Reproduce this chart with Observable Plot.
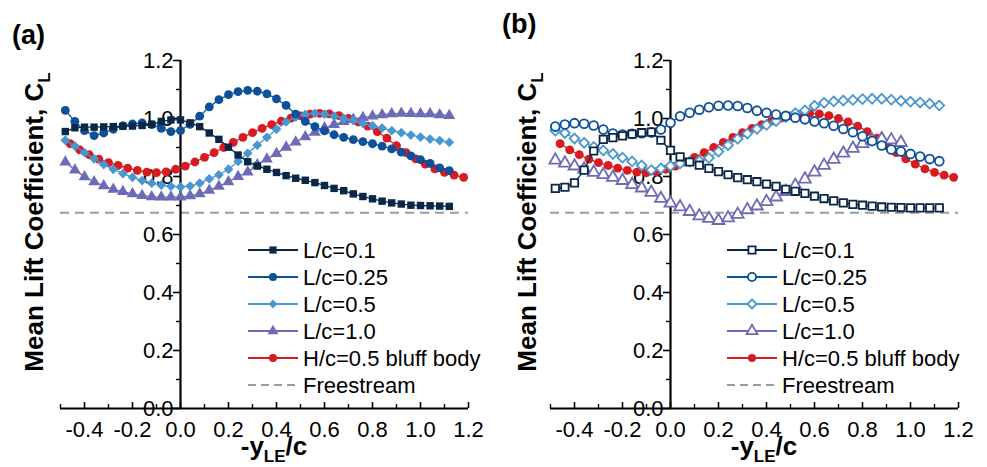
<!DOCTYPE html>
<html><head><meta charset="utf-8">
<script src="https://cdn.jsdelivr.net/npm/d3@7"></script>
<script src="https://cdn.jsdelivr.net/npm/@observablehq/plot@0.6"></script>
<style>
body{margin:0;background:#fff;font-family:"Liberation Sans",Arial,sans-serif;}
#wrap{display:flex;width:987px;height:467px;overflow:hidden;}
</style></head><body><div id="wrap"></div>
<script>
// ---- data ----
const xsL = [-0.48,-0.44,-0.40,-0.36,-0.32,-0.28,-0.24,-0.20,-0.16,-0.12,-0.08,-0.04,0.00,0.04,0.08,0.12,0.16,0.20,0.24,0.28,0.32,0.36,0.40,0.44,0.48,0.52,0.56,0.60,0.64,0.68,0.72,0.76,0.80,0.84,0.88,0.92,0.96,1.00,1.04,1.08,1.12];
const xsB10 = [-0.48,-0.44,-0.40,-0.36,-0.32,-0.28,-0.24,-0.20,-0.16,-0.12,-0.08,-0.04,0.00,0.04,0.08,0.12,0.16,0.20,0.24,0.28,0.32,0.36,0.40,0.44,0.48,0.52,0.56,0.60,0.64,0.68,0.72,0.76,0.80,0.84,0.88,0.92,0.96];
const bluffX = [-0.46,-0.42,-0.38,-0.34,-0.30,-0.26,-0.22,-0.18,-0.14,-0.10,-0.06,-0.02,0.02,0.06,0.10,0.14,0.18,0.22,0.26,0.30,0.34,0.38,0.42,0.46,0.50,0.54,0.58,0.62,0.66,0.70,0.74,0.78,0.82,0.86,0.90,0.94,0.98,1.02,1.06,1.10,1.14,1.18];
const bluffY = [0.913,0.892,0.875,0.860,0.848,0.838,0.829,0.821,0.815,0.813,0.816,0.825,0.836,0.850,0.866,0.882,0.900,0.918,0.935,0.951,0.966,0.979,0.991,1.001,1.009,1.015,1.018,1.016,1.010,1.000,0.988,0.974,0.955,0.932,0.906,0.882,0.861,0.843,0.826,0.814,0.805,0.797];

// panel (a)
const aL01  = [0.955,0.968,0.970,0.970,0.971,0.972,0.973,0.974,0.976,0.980,0.990,0.995,0.995,0.985,0.972,0.950,0.928,0.901,0.874,0.851,0.836,0.825,0.814,0.803,0.794,0.787,0.779,0.769,0.759,0.751,0.740,0.731,0.723,0.715,0.709,0.705,0.701,0.700,0.699,0.698,0.697];
const aL025 = [1.028,0.990,0.958,0.941,0.950,0.963,0.975,0.981,0.985,0.979,0.966,0.955,0.958,0.980,1.008,1.040,1.065,1.082,1.093,1.097,1.094,1.085,1.068,1.045,1.015,0.990,0.972,0.957,0.944,0.935,0.927,0.920,0.913,0.905,0.895,0.884,0.871,0.858,0.845,0.830,0.820];
const aL05  = [0.925,0.905,0.882,0.861,0.841,0.825,0.810,0.797,0.786,0.777,0.770,0.766,0.764,0.767,0.777,0.792,0.806,0.825,0.852,0.880,0.908,0.935,0.963,0.988,1.005,1.014,1.018,1.015,1.008,1.000,0.993,0.983,0.975,0.967,0.958,0.951,0.943,0.936,0.929,0.924,0.918];
const aL10  = [0.850,0.822,0.799,0.782,0.768,0.756,0.748,0.740,0.734,0.730,0.729,0.729,0.729,0.733,0.740,0.752,0.766,0.782,0.800,0.815,0.840,0.860,0.879,0.901,0.919,0.937,0.952,0.968,0.979,0.989,0.997,1.003,1.008,1.013,1.016,1.018,1.017,1.016,1.016,1.013,1.010];

// panel (b)
const bL01  = [0.759,0.763,0.778,0.822,0.888,0.928,0.934,0.940,0.946,0.951,0.953,0.925,0.890,0.868,0.850,0.839,0.828,0.817,0.806,0.796,0.789,0.782,0.774,0.766,0.756,0.749,0.742,0.732,0.724,0.716,0.709,0.704,0.701,0.698,0.695,0.694,0.693,0.692,0.692,0.692,0.692];
const bL025 = [0.972,0.979,0.984,0.982,0.976,0.962,0.948,0.945,0.947,0.949,0.952,0.962,0.985,1.008,1.020,1.030,1.039,1.044,1.045,1.043,1.036,1.027,1.020,1.014,1.009,1.003,0.997,0.990,0.984,0.975,0.964,0.953,0.939,0.922,0.907,0.893,0.886,0.878,0.869,0.860,0.853];
const bL05  = [0.958,0.950,0.931,0.916,0.902,0.890,0.878,0.865,0.852,0.838,0.822,0.828,0.836,0.845,0.851,0.854,0.864,0.886,0.908,0.930,0.948,0.964,0.978,0.991,1.005,1.018,1.028,1.044,1.054,1.059,1.062,1.064,1.067,1.068,1.068,1.065,1.061,1.058,1.055,1.051,1.045];
const bL10  = [0.856,0.846,0.836,0.825,0.814,0.806,0.797,0.786,0.772,0.760,0.745,0.724,0.708,0.695,0.679,0.664,0.655,0.648,0.657,0.669,0.685,0.698,0.713,0.729,0.748,0.769,0.791,0.815,0.838,0.859,0.880,0.897,0.913,0.925,0.930,0.926,0.917];

const freestream = 0.675;
const seriesNames = ["L/c=0.1","L/c=0.25","L/c=0.5","L/c=1.0","H/c=0.5 bluff body","Freestream"];
const seriesColors = ["#0b2748","#0c4f9b","#4897d0","#6d6bb7","#d81b21","#9c9c9c"];
const seriesSymbols = ["square","circle","diamond2","triangle","circle"];
const xTicks = [-0.4,-0.2,0.0,0.2,0.4,0.6,0.8,1.0,1.2];
const xMinor = [-0.5,-0.3,-0.1,0.1,0.3,0.5,0.7,0.9,1.1];
const yTicks = [0.0,0.2,0.4,0.6,0.8,1.0,1.2];
const yMinor = [0.1,0.3,0.5,0.7,0.9,1.1];

// ---- drawing ----
const FONT = "'Liberation Sans', Arial, sans-serif";
const W = 490, H = 467, ML = 60, MR = 22, MT = 60, MB = 59;
const XD = [-0.5, 1.2], YD = [0, 1.2];
const pxX = (W - ML - MR) / (XD[1] - XD[0]);
const pxY = (H - MT - MB) / (YD[1] - YD[0]);
const fmt = d => d.toFixed(1);
const d3Sym = {square: d3.symbolSquare, circle: d3.symbolCircle, diamond2: d3.symbolDiamond2, triangle: d3.symbolTriangle};
const R = 4.4;

function panel(tag, series, hollow, opts) {
  const marks = [];
  marks.push(Plot.ruleY([freestream], {x1: XD[0], x2: XD[1], stroke: seriesColors[5], strokeWidth: 2, strokeDasharray: "9,6"}));
  marks.push(Plot.ruleY(yTicks, {x1: -7 / pxX, x2: 0, stroke: "black", strokeWidth: 1.6}));
  marks.push(Plot.ruleY(yMinor, {x1: -4 / pxX, x2: 0, stroke: "black", strokeWidth: 1.4}));
  marks.push(Plot.ruleX(xTicks, {y1: 0, y2: 6 / pxY, stroke: "black", strokeWidth: 1.6}));
  marks.push(Plot.ruleX(xMinor, {y1: 0, y2: 4 / pxY, stroke: "black", strokeWidth: 1.4}));
  marks.push(Plot.ruleY([0], {x1: XD[0], x2: XD[1], stroke: "black", strokeWidth: 2.2}));
  marks.push(Plot.ruleX([0], {y1: YD[0], y2: YD[1], stroke: "black", strokeWidth: 2.2}));
  marks.push(Plot.text(yTicks, {x: 0, y: d => d, text: fmt, textAnchor: "end", dx: -7, fontSize: 22, fill: "black"}));
  marks.push(Plot.text(xTicks, {x: d => d, y: 0, text: fmt, dy: 21, fontSize: 22, fill: "black"}));
  const order = [4, 3, 2, 1, 0];
  for (const i of order) {
    const s = series[i];
    const data = s.x.map((x, j) => ({x, y: s.y[j]}));
    const filled = i === 4 || !hollow;
    marks.push(Plot.line(data, {x: "x", y: "y", stroke: seriesColors[i], strokeWidth: 1.3}));
    marks.push(Plot.dot(data, {x: "x", y: "y", symbol: seriesSymbols[i], r: i === 0 ? R * 0.95 : R,
      fill: filled ? seriesColors[i] : "white", stroke: filled ? "none" : seriesColors[i], strokeWidth: filled ? 0 : 1.8}));
  }
  const svg = Plot.plot({
    width: W, height: H, marginLeft: ML, marginRight: MR, marginTop: MT, marginBottom: MB,
    x: {domain: XD, axis: null}, y: {domain: YD, axis: null},
    style: {fontFamily: FONT, background: "white", overflow: "visible"},
    marks
  });
  const g = d3.select(svg).append("g").attr("font-family", FONT).attr("fill", "black").attr("text-anchor", "start");
  g.append("text").attr("x", 12).attr("y", opts.tagY).attr("font-size", 27).attr("font-weight", "bold").text(tag);
  const yl = g.append("text").attr("transform", `translate(${opts.ylabX},222) rotate(-90)`)
    .attr("text-anchor", "middle").attr("font-size", 26).attr("font-weight", "bold");
  yl.append("tspan").text("Mean Lift Coefficient, C");
  yl.append("tspan").attr("font-size", 17).attr("dy", 7).text("L");
  const xl = g.append("text").attr("x", 274).attr("y", 455).attr("text-anchor", "middle")
    .attr("font-size", 26).attr("font-weight", "bold");
  xl.append("tspan").text("-y");
  xl.append("tspan").attr("font-size", 17).attr("dy", 7).text("LE");
  xl.append("tspan").attr("dy", -7).text("/c");
  const lg = g.append("g").attr("font-size", 22).attr("text-anchor", "start");
  seriesNames.forEach((name, i) => {
    const cy = 250 + i * 27;
    const lx = opts.legX;
    lg.append("line").attr("x1", lx).attr("x2", lx + 50).attr("y1", cy).attr("y2", cy)
      .attr("stroke", seriesColors[i]).attr("stroke-width", 2)
      .attr("stroke-dasharray", i === 5 ? "8,5" : null);
    if (i < 5) {
      const filled = i === 4 || !hollow;
      lg.append("path").attr("transform", `translate(${lx + 25},${cy})`)
        .attr("d", d3.symbol(d3Sym[seriesSymbols[i]], Math.PI * R * R * 0.85)())
        .attr("fill", filled ? seriesColors[i] : "white")
        .attr("stroke", filled ? "none" : seriesColors[i]).attr("stroke-width", 1.8);
    }
    lg.append("text").attr("x", lx + 55).attr("y", cy).attr("dy", "0.36em").text(name);
  });
  return svg;
}

const seriesA = [
  {x: xsL, y: aL01}, {x: xsL, y: aL025}, {x: xsL, y: aL05}, {x: xsL, y: aL10}, {x: bluffX, y: bluffY}
];
const seriesB = [
  {x: xsL, y: bL01}, {x: xsL, y: bL025}, {x: xsL, y: bL05}, {x: xsB10, y: bL10}, {x: bluffX, y: bluffY}
];
const wrap = document.getElementById("wrap");
wrap.appendChild(panel("(a)", seriesA, false, {tagY: 44, ylabX: 43, legX: 248}));
wrap.appendChild(panel("(b)", seriesB, true, {tagY: 33, ylabX: 46, legX: 237}));
</script></body></html>
